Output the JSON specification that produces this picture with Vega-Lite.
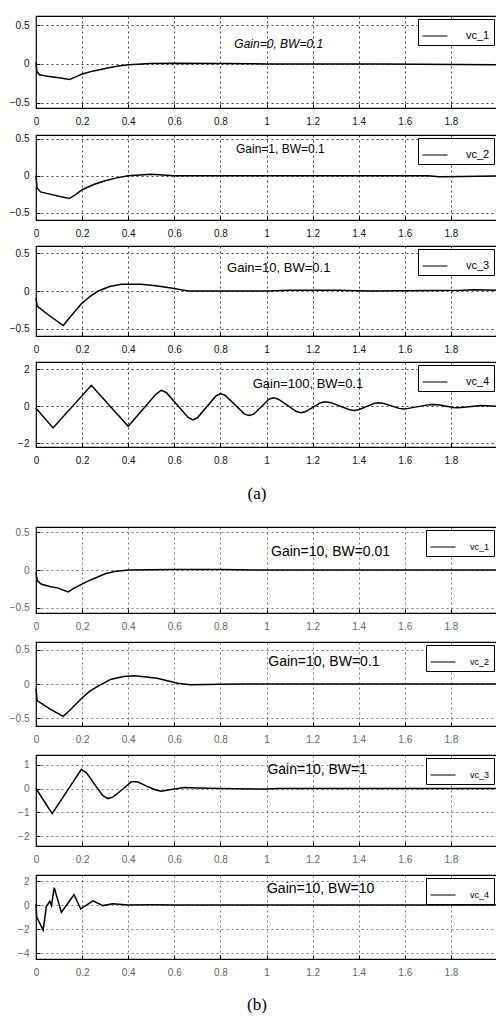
{
"$schema": "https://vega.github.io/schema/vega-lite/v6.json",
"padding": {"top": 15, "left": 5, "right": 0, "bottom": 0},
"background": "white",
"datasets": {
"a1": [{"t":0,"v":0.02},{"t":0.004,"v":-0.1},{"t":0.015,"v":-0.14},{"t":0.05,"v":-0.16},{"t":0.1,"v":-0.18},{"t":0.145,"v":-0.2},{"t":0.17,"v":-0.17},{"t":0.2,"v":-0.13},{"t":0.25,"v":-0.09},{"t":0.3,"v":-0.06},{"t":0.35,"v":-0.03},{"t":0.4,"v":-0.01},{"t":0.5,"v":0.005},{"t":0.6,"v":0.01},{"t":0.8,"v":0.005},{"t":1,"v":0},{"t":1.5,"v":0},{"t":2,"v":-0.01}],
"a2": [{"t":0,"v":0},{"t":0.005,"v":-0.17},{"t":0.02,"v":-0.22},{"t":0.06,"v":-0.25},{"t":0.1,"v":-0.28},{"t":0.145,"v":-0.31},{"t":0.17,"v":-0.26},{"t":0.2,"v":-0.19},{"t":0.25,"v":-0.12},{"t":0.3,"v":-0.07},{"t":0.35,"v":-0.03},{"t":0.4,"v":0},{"t":0.45,"v":0.01},{"t":0.5,"v":0.02},{"t":0.55,"v":0.01},{"t":0.6,"v":0},{"t":1,"v":0},{"t":1.7,"v":0},{"t":1.75,"v":-0.015},{"t":1.85,"v":-0.01},{"t":2,"v":-0.005}],
"a3": [{"t":0,"v":-0.09},{"t":0.005,"v":-0.2},{"t":0.05,"v":-0.31},{"t":0.118,"v":-0.46},{"t":0.15,"v":-0.34},{"t":0.197,"v":-0.17},{"t":0.235,"v":-0.07},{"t":0.27,"v":0},{"t":0.32,"v":0.06},{"t":0.37,"v":0.09},{"t":0.456,"v":0.09},{"t":0.52,"v":0.07},{"t":0.586,"v":0.04},{"t":0.66,"v":0},{"t":0.8,"v":0},{"t":1,"v":0},{"t":1.1,"v":0.01},{"t":1.3,"v":0.01},{"t":1.45,"v":0},{"t":1.85,"v":0.01},{"t":1.9,"v":0.015},{"t":2,"v":0.01}],
"a4": [{"t":0,"v":-0.1},{"t":0.074,"v":-1.17},{"t":0.24,"v":1.14},{"t":0.4,"v":-1.08},{"t":0.52,"v":0.65},{"t":0.543,"v":0.87},{"t":0.565,"v":0.75},{"t":0.66,"v":-0.6},{"t":0.68,"v":-0.73},{"t":0.7,"v":-0.62},{"t":0.78,"v":0.55},{"t":0.8,"v":0.69},{"t":0.82,"v":0.6},{"t":0.905,"v":-0.42},{"t":0.925,"v":-0.5},{"t":0.945,"v":-0.42},{"t":1.01,"v":0.38},{"t":1.03,"v":0.46},{"t":1.05,"v":0.4},{"t":1.13,"v":-0.28},{"t":1.15,"v":-0.34},{"t":1.17,"v":-0.28},{"t":1.235,"v":0.2},{"t":1.256,"v":0.25},{"t":1.28,"v":0.2},{"t":1.36,"v":-0.18},{"t":1.38,"v":-0.23},{"t":1.4,"v":-0.18},{"t":1.467,"v":0.16},{"t":1.487,"v":0.2},{"t":1.51,"v":0.15},{"t":1.575,"v":-0.11},{"t":1.595,"v":-0.14},{"t":1.615,"v":-0.11},{"t":1.7,"v":0.08},{"t":1.72,"v":0.1},{"t":1.745,"v":0.08},{"t":1.81,"v":-0.06},{"t":1.826,"v":-0.08},{"t":1.845,"v":-0.06},{"t":1.93,"v":0.04},{"t":2,"v":0}],
"b1": [{"t":0,"v":-0.03},{"t":0.005,"v":-0.14},{"t":0.024,"v":-0.19},{"t":0.06,"v":-0.22},{"t":0.096,"v":-0.24},{"t":0.139,"v":-0.29},{"t":0.16,"v":-0.25},{"t":0.197,"v":-0.19},{"t":0.23,"v":-0.14},{"t":0.27,"v":-0.09},{"t":0.3,"v":-0.05},{"t":0.34,"v":-0.02},{"t":0.4,"v":0},{"t":0.6,"v":0.005},{"t":0.8,"v":0.005},{"t":1,"v":0},{"t":2,"v":0}],
"b2": [{"t":0,"v":-0.07},{"t":0.005,"v":-0.24},{"t":0.06,"v":-0.36},{"t":0.118,"v":-0.47},{"t":0.15,"v":-0.37},{"t":0.197,"v":-0.21},{"t":0.235,"v":-0.1},{"t":0.27,"v":-0.03},{"t":0.326,"v":0.07},{"t":0.38,"v":0.11},{"t":0.427,"v":0.12},{"t":0.48,"v":0.1},{"t":0.53,"v":0.08},{"t":0.615,"v":0.01},{"t":0.67,"v":-0.01},{"t":0.8,"v":-0.005},{"t":0.9,"v":0},{"t":2,"v":0}],
"b3": [{"t":0,"v":0},{"t":0.07,"v":-1.05},{"t":0.197,"v":0.8},{"t":0.22,"v":0.65},{"t":0.26,"v":0.1},{"t":0.29,"v":-0.3},{"t":0.312,"v":-0.42},{"t":0.335,"v":-0.35},{"t":0.38,"v":0},{"t":0.413,"v":0.28},{"t":0.44,"v":0.28},{"t":0.48,"v":0.1},{"t":0.52,"v":-0.06},{"t":0.543,"v":-0.11},{"t":0.58,"v":-0.05},{"t":0.643,"v":0.04},{"t":0.7,"v":0.02},{"t":0.8,"v":0},{"t":1,"v":-0.02},{"t":1.05,"v":0},{"t":2,"v":0}],
"b4": [{"t":0,"v":0.08},{"t":0.003,"v":-1},{"t":0.031,"v":-2.1},{"t":0.045,"v":-0.1},{"t":0.06,"v":0.3},{"t":0.067,"v":-0.05},{"t":0.079,"v":1.45},{"t":0.11,"v":-0.6},{"t":0.165,"v":0.85},{"t":0.194,"v":-0.33},{"t":0.247,"v":0.35},{"t":0.29,"v":-0.05},{"t":0.334,"v":0.1},{"t":0.4,"v":0},{"t":0.5,"v":0.02},{"t":0.6,"v":0},{"t":1,"v":0},{"t":2,"v":0}]
},
"config": {
 "font": "Liberation Sans",
 "view": {"stroke": "black", "strokeWidth": 1.2},
 "axis": {"grid": true, "gridColor": "#222", "gridDash": [2, 3], "gridWidth": 1, "gridOpacity": 0.85, "domain": false, "ticks": true, "tickSize": -4, "tickColor": "black", "labelFontSize": 10, "labelColor": "#111", "title": null, "labelFont": "Liberation Sans", "labelOverlap": false},
 "axisX": {"labelPadding": 12, "minExtent": 18, "maxExtent": 18, "labelFlush": false},
 "axisY": {"labelPadding": 11, "minExtent": 30, "maxExtent": 30},
 "legend": {"orient": "top-right", "offset": 3, "strokeColor": "black", "fillColor": "white", "padding": 4, "symbolType": "stroke", "symbolSize": 625, "symbolStrokeWidth": 1, "labelOffset": 18, "labelFontSize": 11, "labelColor": "black"}
},
"spacing": 24,
"resolve": {"scale": {"color": "independent"}, "legend": {"color": "independent"}},
"vconcat": [
 {
  "spacing": 6,
  "title": {"text": "(a)", "orient": "bottom", "anchor": "middle", "font": "Liberation Serif", "fontSize": 17, "fontWeight": "normal", "offset": 20, "dx": 4, "color": "black"},
  "resolve": {"scale": {"color": "independent"}, "legend": {"color": "independent"}},
  "vconcat": [
   {"width": 461, "height": 92,
    "encoding": {
     "x": {"field": "t", "type": "quantitative", "scale": {"domain": [0, 2], "nice": false}, "axis": {"values": [0,0.2,0.4,0.6,0.8,1,1.2,1.4,1.6,1.8], "format": "~g"}},
     "y": {"field": "v", "type": "quantitative", "scale": {"domain": [-0.57, 0.62], "nice": false, "zero": false}, "axis": {"values": [-0.5, 0, 0.5], "format": "~g"}}},
    "layer": [
     {"data": {"name": "a1"}, "mark": {"type": "line", "strokeWidth": 1.5}, "encoding": {"color": {"datum": "vc_1", "scale": {"range": ["black"]}, "legend": {"title": null}}}},
     {"data": {"values": [{"t": 1.053, "v": 0.26, "label": "Gain=0, BW=0.1"}]}, "mark": {"type": "text", "fontSize": 12, "fontStyle": "italic", "color": "black"}, "encoding": {"text": {"field": "label"}}}
   ]},
   {"width": 461, "height": 85,
    "encoding": {
     "x": {"field": "t", "type": "quantitative", "scale": {"domain": [0, 2], "nice": false}, "axis": {"values": [0,0.2,0.4,0.6,0.8,1,1.2,1.4,1.6,1.8], "format": "~g"}},
     "y": {"field": "v", "type": "quantitative", "scale": {"domain": [-0.6, 0.55], "nice": false, "zero": false}, "axis": {"values": [-0.5, 0, 0.5], "format": "~g"}}},
    "layer": [
     {"data": {"name": "a2"}, "mark": {"type": "line", "strokeWidth": 1.5}, "encoding": {"color": {"datum": "vc_2", "scale": {"range": ["black"]}, "legend": {"title": null}}}},
     {"data": {"values": [{"t": 1.06, "v": 0.36, "label": "Gain=1, BW=0.1"}]}, "mark": {"type": "text", "fontSize": 12, "color": "black"}, "encoding": {"text": {"field": "label"}}}
   ]},
   {"width": 461, "height": 90,
    "encoding": {
     "x": {"field": "t", "type": "quantitative", "scale": {"domain": [0, 2], "nice": false}, "axis": {"values": [0,0.2,0.4,0.6,0.8,1,1.2,1.4,1.6,1.8], "format": "~g"}},
     "y": {"field": "v", "type": "quantitative", "scale": {"domain": [-0.6, 0.6], "nice": false, "zero": false}, "axis": {"values": [-0.5, 0, 0.5], "format": "~g"}}},
    "layer": [
     {"data": {"name": "a3"}, "mark": {"type": "line", "strokeWidth": 1.5}, "encoding": {"color": {"datum": "vc_3", "scale": {"range": ["black"]}, "legend": {"title": null}}}},
     {"data": {"values": [{"t": 1.053, "v": 0.31, "label": "Gain=10, BW=0.1"}]}, "mark": {"type": "text", "fontSize": 13, "color": "black"}, "encoding": {"text": {"field": "label"}}}
   ]},
   {"width": 461, "height": 85,
    "encoding": {
     "x": {"field": "t", "type": "quantitative", "scale": {"domain": [0, 2], "nice": false}, "axis": {"values": [0,0.2,0.4,0.6,0.8,1,1.2,1.4,1.6,1.8], "format": "~g"}},
     "y": {"field": "v", "type": "quantitative", "scale": {"domain": [-2.2, 2.4], "nice": false, "zero": false}, "axis": {"values": [-2, 0, 2], "format": "~g"}}},
    "layer": [
     {"data": {"name": "a4"}, "mark": {"type": "line", "strokeWidth": 1.5}, "encoding": {"color": {"datum": "vc_4", "scale": {"range": ["black"]}, "legend": {"title": null}}}},
     {"data": {"values": [{"t": 1.18, "v": 1.23, "label": "Gain=100, BW=0.1"}]}, "mark": {"type": "text", "fontSize": 13, "color": "black"}, "encoding": {"text": {"field": "label"}}}
   ]}
  ]
 },
 {
  "spacing": 9,
  "title": {"text": "(b)", "orient": "bottom", "anchor": "middle", "font": "Liberation Serif", "fontSize": 17, "fontWeight": "normal", "offset": 19, "dx": 4, "color": "black"},
  "resolve": {"scale": {"color": "independent"}, "legend": {"color": "independent"}},
  "vconcat": [
   {"width": 461, "height": 86,
    "encoding": {
     "x": {"field": "t", "type": "quantitative", "scale": {"domain": [0, 2], "nice": false}, "axis": {"values": [0,0.2,0.4,0.6,0.8,1,1.2,1.4,1.6,1.8], "format": "~g", "labelColor": "#666", "gridOpacity": 0.6}},
     "y": {"field": "v", "type": "quantitative", "scale": {"domain": [-0.57, 0.57], "nice": false, "zero": false}, "axis": {"values": [-0.5, 0, 0.5], "format": "~g", "labelColor": "#666", "gridOpacity": 0.6}}},
    "layer": [
     {"data": {"name": "b1"}, "mark": {"type": "line", "strokeWidth": 1.5}, "encoding": {"color": {"datum": "vc_1", "scale": {"range": ["black"]}, "legend": {"title": null, "labelFontSize": 9, "labelOffset": 14}}}},
     {"data": {"values": [{"t": 1.278, "v": 0.24, "label": "Gain=10, BW=0.01"}]}, "mark": {"type": "text", "fontSize": 14, "color": "black"}, "encoding": {"text": {"field": "label"}}}
   ]},
   {"width": 461, "height": 84,
    "encoding": {
     "x": {"field": "t", "type": "quantitative", "scale": {"domain": [0, 2], "nice": false}, "axis": {"values": [0,0.2,0.4,0.6,0.8,1,1.2,1.4,1.6,1.8], "format": "~g", "labelColor": "#666", "gridOpacity": 0.6}},
     "y": {"field": "v", "type": "quantitative", "scale": {"domain": [-0.61, 0.61], "nice": false, "zero": false}, "axis": {"values": [-0.5, 0, 0.5], "format": "~g", "labelColor": "#666", "gridOpacity": 0.6}}},
    "layer": [
     {"data": {"name": "b2"}, "mark": {"type": "line", "strokeWidth": 1.5}, "encoding": {"color": {"datum": "vc_2", "scale": {"range": ["black"]}, "legend": {"title": null, "labelFontSize": 9, "labelOffset": 14}}}},
     {"data": {"values": [{"t": 1.249, "v": 0.32, "label": "Gain=10, BW=0.1"}]}, "mark": {"type": "text", "fontSize": 14, "color": "black"}, "encoding": {"text": {"field": "label"}}}
   ]},
   {"width": 461, "height": 91,
    "encoding": {
     "x": {"field": "t", "type": "quantitative", "scale": {"domain": [0, 2], "nice": false}, "axis": {"values": [0,0.2,0.4,0.6,0.8,1,1.2,1.4,1.6,1.8], "format": "~g", "labelColor": "#666", "gridOpacity": 0.6}},
     "y": {"field": "v", "type": "quantitative", "scale": {"domain": [-2.4, 1.4], "nice": false, "zero": false}, "axis": {"values": [-2, -1, 0, 1], "format": "~g", "labelColor": "#666", "gridOpacity": 0.6}}},
    "layer": [
     {"data": {"name": "b3"}, "mark": {"type": "line", "strokeWidth": 1.5}, "encoding": {"color": {"datum": "vc_3", "scale": {"range": ["black"]}, "legend": {"title": null, "labelFontSize": 9, "labelOffset": 14}}}},
     {"data": {"values": [{"t": 1.22, "v": 0.77, "label": "Gain=10, BW=1"}]}, "mark": {"type": "text", "fontSize": 14, "color": "black"}, "encoding": {"text": {"field": "label"}}}
   ]},
   {"width": 461, "height": 84,
    "encoding": {
     "x": {"field": "t", "type": "quantitative", "scale": {"domain": [0, 2], "nice": false}, "axis": {"values": [0,0.2,0.4,0.6,0.8,1,1.2,1.4,1.6,1.8], "format": "~g", "labelColor": "#666", "gridOpacity": 0.6}},
     "y": {"field": "v", "type": "quantitative", "scale": {"domain": [-4.5, 2.5], "nice": false, "zero": false}, "axis": {"values": [-4, -2, 0, 2], "format": "~g", "labelColor": "#666", "gridOpacity": 0.6}}},
    "layer": [
     {"data": {"name": "b4"}, "mark": {"type": "line", "strokeWidth": 1.5}, "encoding": {"color": {"datum": "vc_4", "scale": {"range": ["black"]}, "legend": {"title": null, "labelFontSize": 9, "labelOffset": 14}}}},
     {"data": {"values": [{"t": 1.235, "v": 1.3, "label": "Gain=10, BW=10"}]}, "mark": {"type": "text", "fontSize": 14, "color": "black"}, "encoding": {"text": {"field": "label"}}}
   ]}
  ]
 }
]
}
